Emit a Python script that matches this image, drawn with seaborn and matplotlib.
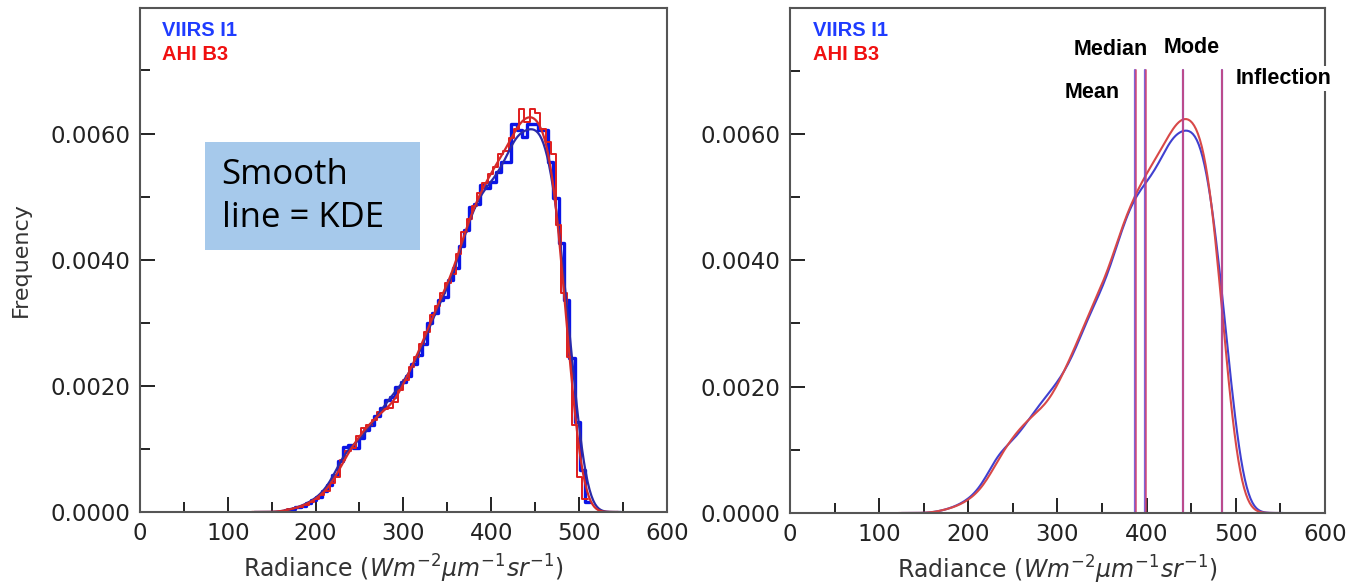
import numpy as np
import matplotlib
matplotlib.use("Agg")
import matplotlib.pyplot as plt
from matplotlib.patches import Rectangle
from matplotlib.ticker import MultipleLocator, FormatStrFormatter
import seaborn as sns

# Histogram heights (density), bin width 6
bin_width = 6
viirs_start, viirs_stop = 165, 513
ahi_start, ahi_stop = 162, 510

viirs_i1 = [0.03, 0.05, 0.07, 0.10, 0.14, 0.19, 0.24, 0.32, 0.42, 0.58,
            0.80, 1.02, 1.05, 1.00, 1.15, 1.28, 1.35, 1.50, 1.62, 1.75,
            1.80, 1.95, 2.02, 2.12, 2.30, 2.45, 2.62, 2.95, 3.10, 3.30,
            3.35, 3.62, 3.80, 4.15, 4.40, 4.75, 4.80, 5.10, 5.05, 5.15,
            5.30, 5.45, 5.45, 6.05, 5.95, 5.85, 6.05, 6.05, 5.95, 5.95,
            5.45, 4.90, 4.20, 3.30, 2.40, 1.40, 0.65, 0.15]
ahi_b3 = [0.02, 0.04, 0.06, 0.08, 0.11, 0.15, 0.20, 0.26, 0.33, 0.45,
          0.55, 0.80, 0.95, 1.00, 1.18, 1.30, 1.35, 1.42, 1.55, 1.60,
          1.62, 1.70, 1.90, 2.05, 2.25, 2.40, 2.60, 2.80, 3.05, 3.20,
          3.40, 3.55, 3.70, 4.00, 4.35, 4.55, 4.75, 4.95, 5.10, 5.25,
          5.35, 5.55, 5.60, 5.80, 5.95, 6.25, 6.05, 6.25, 6.20, 5.95,
          5.75, 5.55, 4.45, 3.40, 2.40, 1.35, 0.55, 0.20]

# Statistics marked in the right panel (Mean, Median, Mode, Inflection)
stat_names = ["Mean", "Median", "Mode", "Inflection"]
viirs_stats = [387, 398, 441, 485]
ahi_stats = [388, 399, 441, 485]

viirs_x = np.arange(viirs_start, viirs_stop, bin_width) + bin_width / 2
ahi_x = np.arange(ahi_start, ahi_stop, bin_width) + bin_width / 2
viirs_w = np.array(viirs_i1) * 1e-3
ahi_w = np.array(ahi_b3) * 1e-3

sns.set_style("white")
plt.rcParams["font.family"] = ["DejaVu Sans"]
plt.rcParams["mathtext.fontset"] = "dejavusans"

fig = plt.figure(figsize=(13.54, 5.87), dpi=100)
ax1 = fig.add_axes([0.1034, 0.1278, 0.389, 0.8586])
ax2 = fig.add_axes([0.5835, 0.1261, 0.395, 0.8603])

blue = "#0a14e6"
red = "#e01c1c"

# Left: step histograms + KDE
sns.histplot(x=viirs_x, weights=viirs_w, binwidth=bin_width, binrange=(viirs_start, viirs_stop),
             stat="density", element="step", fill=False, color=blue, linewidth=2.4, ax=ax1)
sns.histplot(x=ahi_x, weights=ahi_w, binwidth=bin_width, binrange=(ahi_start, ahi_stop),
             stat="density", element="step", fill=False, color=red, linewidth=1.4, ax=ax1)
sns.kdeplot(x=viirs_x, weights=viirs_w, bw_adjust=0.28, color="#2a2aa8", linewidth=1.6, ax=ax1)
sns.kdeplot(x=ahi_x, weights=ahi_w, bw_adjust=0.28, color="#d42a2a", linewidth=1.6, ax=ax1)

# Right: KDE only with stat lines
sns.kdeplot(x=viirs_x, weights=viirs_w, bw_adjust=0.32, color="#4040d0", linewidth=1.5, ax=ax2)
sns.kdeplot(x=ahi_x, weights=ahi_w, bw_adjust=0.32, color="#d84848", linewidth=1.5, ax=ax2)
for v in viirs_stats:
    ax2.axvline(v, ymax=0.877, color="#6a4ad0", linewidth=1.6, alpha=0.85)
for v in ahi_stats:
    ax2.axvline(v, ymax=0.877, color="#d8406a", linewidth=1.3, alpha=0.75)

label_pos = {"Mean": (339, 0.00666), "Median": (360, 0.00734),
             "Mode": (451, 0.00737), "Inflection": (554, 0.00687)}
for name in stat_names:
    px, py = label_pos[name]
    ax2.text(px, py, name, ha="center", va="center", fontsize=15.5, fontweight="bold",
             family="Liberation Sans", color="black", zorder=6, clip_on=False,
             bbox=dict(facecolor="white", edgecolor="none", pad=1.5))

for ax in (ax1, ax2):
    ax.set_xlim(0, 600)
    ax.set_ylim(0, 0.00799)
    ax.xaxis.set_major_locator(MultipleLocator(100))
    ax.xaxis.set_minor_locator(MultipleLocator(50))
    ax.yaxis.set_major_locator(MultipleLocator(0.002))
    ax.yaxis.set_minor_locator(MultipleLocator(0.001))
    ax.yaxis.set_major_formatter(FormatStrFormatter("%.4f"))
    ax.tick_params(which="both", direction="in", width=1.4, colors="#222222",
                   labelsize=16.5, bottom=True, left=True, top=False, right=False)
    ax.tick_params(which="major", length=11, pad=7)
    ax.tick_params(which="minor", length=7)
    for s in ax.spines.values():
        s.set_color("#555555")
        s.set_linewidth(1.5)
    ax.set_xlabel(r"Radiance ($Wm^{-2}\mu m^{-1}sr^{-1}$)", fontsize=17, color="#333333", labelpad=6)
    ax.set_ylabel("")
    ax.text(0.042, 0.955, "VIIRS I1", transform=ax.transAxes, color="#1f3cff", fontsize=14.5,
            fontweight="bold", family="Liberation Sans", va="center")
    ax.text(0.042, 0.908, "AHI B3", transform=ax.transAxes, color="#f01010", fontsize=14.5,
            fontweight="bold", family="Liberation Sans", va="center")

ax1.set_ylabel("Frequency", fontsize=16, color="#333333", labelpad=14)

# annotation box on the left panel
ax1.add_patch(Rectangle((74, 0.00415), 245, 0.00171, facecolor="#a6c9eb", edgecolor="none", zorder=1))
ax1.text(93, 0.00500, "Smooth\nline = KDE", fontsize=25, family="Open Sans", color="black",
         va="center", ha="left", linespacing=1.35, zorder=2)

fig.savefig("out.png", dpi=100)
